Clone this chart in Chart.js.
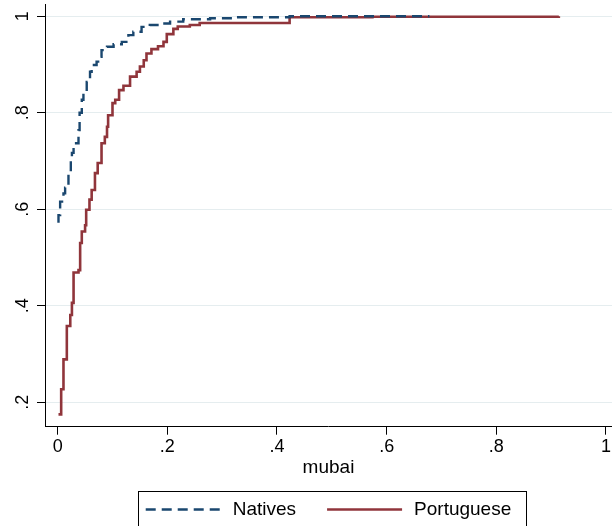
<!DOCTYPE html>
<html>
<head>
<meta charset="utf-8">
<title>mubai ECDF</title>
<script src="https://cdn.jsdelivr.net/npm/chart.js@4/dist/chart.umd.min.js"></script>
<style>
  html, body { margin: 0; padding: 0; background: #fff; }
  #wrap { width: 613px; height: 526px; position: relative; }
</style>
</head>
<body>
<div id="wrap"><canvas id="cdf"></canvas></div>
<script>
const natX = [0.0015, 0.0015, 0.0045, 0.0045, 0.0106, 0.0136, 0.0197, 0.024, 0.026, 0.029, 0.038, 0.038, 0.040, 0.044, 0.047, 0.053, 0.059, 0.062, 0.071, 0.077, 0.080, 0.090, 0.102, 0.117, 0.129, 0.138, 0.153, 0.168, 0.187, 0.205, 0.229, 0.278, 0.319, 0.423, 0.678]
const natY = [0.572, 0.588, 0.605, 0.616, 0.633, 0.645, 0.675, 0.700, 0.717, 0.737, 0.745, 0.764, 0.800, 0.827, 0.844, 0.864, 0.885, 0.899, 0.906, 0.916, 0.930, 0.937, 0.942, 0.947, 0.961, 0.968, 0.978, 0.982, 0.985, 0.989, 0.994, 0.996, 0.998, 1.0, 1.0]

const porX = [0.0015, 0.0064, 0.0106, 0.0167, 0.023, 0.026, 0.029, 0.029, 0.038, 0.041, 0.041, 0.041, 0.044, 0.050, 0.052, 0.058, 0.062, 0.068, 0.073, 0.080, 0.086, 0.090, 0.092, 0.100, 0.105, 0.112, 0.120, 0.132, 0.144, 0.150, 0.157, 0.162, 0.171, 0.183, 0.193, 0.199, 0.211, 0.219, 0.241, 0.259, 0.423, 0.574, 0.914]
const porY = [0.175, 0.227, 0.289, 0.358, 0.381, 0.406, 0.424, 0.469, 0.474, 0.491, 0.512, 0.530, 0.554, 0.567, 0.599, 0.620, 0.640, 0.675, 0.696, 0.737, 0.750, 0.771, 0.795, 0.820, 0.827, 0.847, 0.856, 0.875, 0.885, 0.896, 0.909, 0.923, 0.932, 0.938, 0.947, 0.963, 0.974, 0.979, 0.982, 0.986, 0.998, 0.999, 1.0]

const xTicks = [0, 0.2, 0.4, 0.6, 0.8, 1]
const yTicks = [0.2, 0.4, 0.6, 0.8, 1]
const seriesNames = ['Natives', 'Portuguese']

const NAVY = '#1a476f'
const MAROON = '#90353b'
const GRID = '#e5edef'
const FONT = '"Liberation Sans", Arial, Helvetica, sans-serif'

const fmtTick = (v) => {
  const s = (+v.toFixed(2)).toString()
  return s.startsWith('0.') ? s.slice(1) : s
}

const toPts = (xs, ys) => xs.map((x, i) => ({ x, y: ys[i] }))

// y labels in stata are turned on their side
const sideLabels = {
  id: 'sideLabels',
  afterDraw(chart) {
    const { ctx } = chart
    const ys = chart.scales.y
    ctx.save()
    ctx.font = '18px ' + FONT
    ctx.fillStyle = '#000'
    ctx.textAlign = 'center'
    ctx.textBaseline = 'alphabetic'
    ys.ticks.forEach((t) => {
      const py = ys.getPixelForValue(t.value)
      ctx.save()
      ctx.translate(ys.right - 17, py)
      ctx.rotate(-Math.PI / 2)
      ctx.fillText(fmtTick(t.value), 0, 0)
      ctx.restore()
    })
    ctx.restore()
  }
}

// boxed legend under the x title
const boxLegend = {
  id: 'boxLegend',
  afterDraw(chart) {
    const { ctx, chartArea } = chart
    const xs = chart.scales.x
    const sample = 75
    const gapText = 12
    const gapItem = 31
    ctx.save()
    ctx.font = '19px ' + FONT
    const items = chart.data.datasets.map((ds) => ({ ds, w: sample + gapText + ctx.measureText(ds.label).width }))
    const total = items.reduce((s, it) => s + it.w, 0) + gapItem * (items.length - 1)
    let x = (chartArea.left + chartArea.right) / 2 - total / 2
    const top = Math.round(xs.bottom + 12) + 0.5
    const cy = top + 18
    ctx.strokeStyle = '#000'
    ctx.lineWidth = 1
    ctx.strokeRect(Math.round(x - 8) + 0.5, top, Math.round(total + 22), 40)
    items.forEach(({ ds, w }) => {
      ctx.beginPath()
      ctx.setLineDash(ds.borderDash || [])
      ctx.strokeStyle = ds.borderColor
      ctx.lineWidth = ds.borderWidth
      ctx.moveTo(x, cy)
      ctx.lineTo(x + sample, cy)
      ctx.stroke()
      ctx.setLineDash([])
      ctx.fillStyle = '#000'
      ctx.textAlign = 'left'
      ctx.textBaseline = 'middle'
      ctx.fillText(ds.label, x + sample + gapText, cy)
      x += w + gapItem
    })
    ctx.restore()
  }
}

Chart.defaults.font.family = FONT
Chart.defaults.color = '#000'

new Chart(document.getElementById('cdf'), {
  type: 'line',
  data: {
    datasets: [
      {
        label: seriesNames[0],
        data: toPts(natX, natY),
        borderColor: NAVY,
        borderWidth: 2.4,
        borderDash: [10, 6],
        stepped: 'before',
        pointRadius: 0,
        fill: false
      },
      {
        label: seriesNames[1],
        data: toPts(porX, porY),
        borderColor: MAROON,
        borderWidth: 2.6,
        stepped: 'before',
        pointRadius: 0,
        fill: false
      }
    ]
  },
  options: {
    responsive: true,
    maintainAspectRatio: false,
    animation: false,
    layout: { padding: { left: 0, right: 0, top: 4, bottom: 46.6 } },
    plugins: {
      legend: { display: false },
      tooltip: { enabled: false }
    },
    scales: {
      x: {
        type: 'linear',
        min: -0.0231,
        max: 1.0109,
        afterBuildTicks: (s) => { s.ticks = xTicks.map((v) => ({ value: v })) },
        afterFit: (s) => { s.height = 52.7 },
        border: { color: '#000', width: 1 },
        grid: { drawOnChartArea: false, drawTicks: true, tickLength: 8, tickColor: '#000', tickWidth: 1 },
        ticks: {
          autoSkip: false, maxRotation: 0, padding: 2,
          font: { size: 18 }, color: '#000',
          callback: (v) => fmtTick(v)
        },
        title: { display: true, text: 'mubai', font: { size: 19 }, color: '#000', padding: { top: 0, bottom: 0 } }
      },
      y: {
        type: 'linear',
        min: 0.1494,
        max: 1.0255,
        afterBuildTicks: (s) => { s.ticks = yTicks.map((v) => ({ value: v })) },
        afterFit: (s) => { s.width = 45 },
        border: { color: '#000', width: 1 },
        grid: { color: GRID, lineWidth: 1, drawTicks: true, tickLength: 8, tickColor: '#000', tickWidth: 1 },
        ticks: { display: false }
      }
    }
  },
  plugins: [sideLabels, boxLegend]
})
</script>
</body>
</html>
